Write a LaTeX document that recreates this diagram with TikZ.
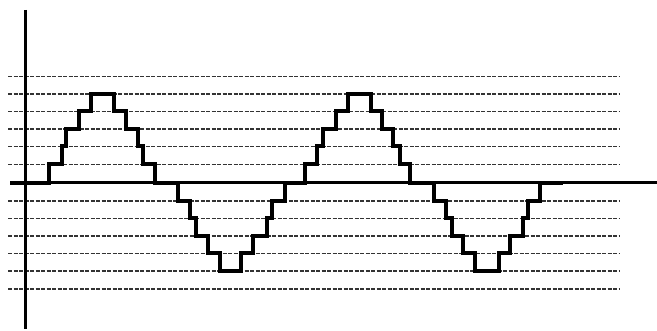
\documentclass[tikz,border=0pt]{standalone}
\begin{document}
\begin{tikzpicture}[x=1pt,y=-1pt,
  grid/.style={line width=1.3pt, dash pattern=on 4pt off 1.5pt, black!80},
  axis/.style={line width=3pt, black},
  stair/.style={line width=4pt, black, line join=miter}]
\fill[white] (0,0) rectangle (657,331);
\useasboundingbox (0,0) rectangle (657,331);
\foreach \yy in {76.5,94,111.5,129,146.5,164.5,201,218.5,236,253.5,271,289}
  \draw[grid] (8,\yy) -- (620,\yy);
\draw[axis] (25,10) -- (25,329);
\draw[axis] (10,183) -- (657,183);
\draw[stair] (10,183) -- (49,183) -- (49,164.5) -- (62,164.5) -- (62,146.5) -- (66,146.5) -- (66,129) -- (79,129) -- (79,111.5) -- (91,111.5) -- (91,94) -- (114,94) -- (114,111.5) -- (126,111.5) -- (126,129) -- (138,129) -- (138,146.5) -- (143,146.5) -- (143,164.5) -- (155,164.5) -- (155,183)
 -- (178,183) -- (178,201) -- (190,201) -- (190,218.5) -- (196,218.5) -- (196,236) -- (208,236) -- (208,253.5) -- (220,253.5) -- (220,271) -- (241,271) -- (241,253.5) -- (253,253.5) -- (253,236) -- (267,236) -- (267,218.5) -- (272,218.5) -- (272,201) -- (285,201) -- (285,183)
 -- (305,183) -- (305,164.5) -- (317,164.5) -- (317,146.5) -- (323,146.5) -- (323,129) -- (336,129) -- (336,111.5) -- (348,111.5) -- (348,94) -- (371,94) -- (371,111.5) -- (382,111.5) -- (382,129) -- (393,129) -- (393,146.5) -- (400,146.5) -- (400,164.5) -- (410,164.5) -- (410,183)
 -- (434,183) -- (434,201) -- (446,201) -- (446,218.5) -- (452,218.5) -- (452,236) -- (463,236) -- (463,253.5) -- (475,253.5) -- (475,271) -- (499,271) -- (499,253.5) -- (510,253.5) -- (510,236) -- (523,236) -- (523,218.5) -- (528,218.5) -- (528,201) -- (540,201) -- (540,183) -- (563,183);
\end{tikzpicture}
\end{document}
